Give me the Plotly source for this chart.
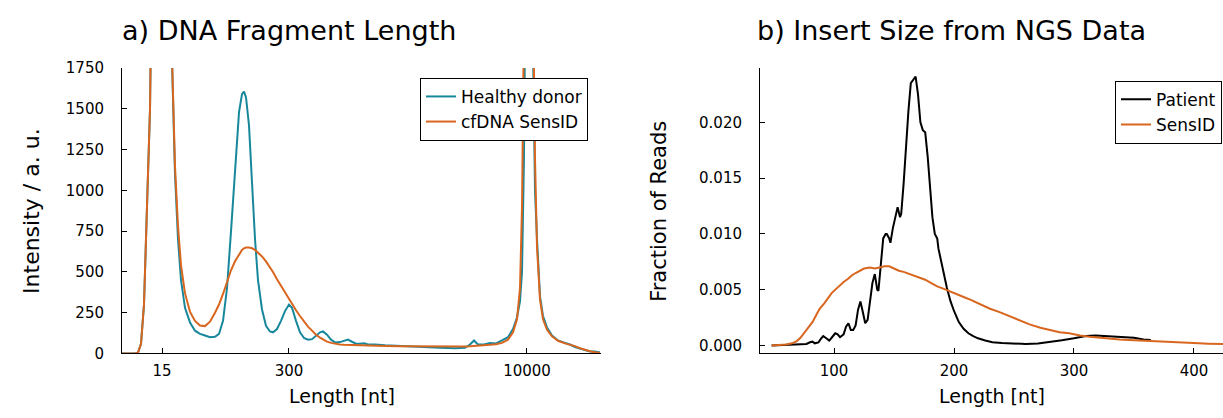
import plotly.graph_objects as go

# ---------------- Panel a) electropherogram (migration time axis, ladder-labelled) -------------
migration_time = [20.00, 22.71, 23.34, 23.97, 24.59, 25.22, 25.85, 26.89, 27.93, 28.98, 29.81, 30.44,
                  31.06, 31.69, 32.32, 33.15, 34.20, 35.24, 36.28, 37.33, 38.37, 39.42, 40.25, 41.09,
                  41.92, 42.76, 43.59, 44.43, 45.05, 45.47, 45.89, 46.51, 47.14, 47.77, 48.39, 49.23,
                  50.06, 50.90, 51.52, 52.36, 53.19, 54.03, 54.86, 55.49, 56.33, 57.16, 58.00, 58.83,
                  59.67, 60.50, 61.34, 61.96, 62.80, 63.63, 64.47, 65.51, 66.35, 67.18, 68.02, 68.85,
                  69.69, 70.52, 71.36, 72.82, 74.91, 78.04, 82.21, 86.39, 89.52, 91.61, 92.65, 93.49,
                  94.32, 95.57, 96.83, 98.08, 99.33, 100.58, 101.63, 102.46, 103.09, 103.51, 103.92,
                  104.34, 104.97, 105.80, 106.22, 106.64, 107.27, 107.89, 108.73, 109.77, 111.02,
                  112.48, 113.53, 114.57, 115.62, 116.66, 117.70, 118.75, 119.79]

healthy_donor = [0, 0, 5, 60, 300, 900, 1500, 4000, 6000, 4500, 2500, 1750,
                 1100, 700, 450, 280, 190, 140, 120, 110, 100, 102, 120, 200,
                 400, 750, 1150, 1480, 1590, 1605, 1570, 1400, 1050, 700, 450, 270,
                 170, 135, 130, 150, 200, 260, 300, 280, 200, 130, 95, 85,
                 88, 110, 130, 135, 115, 85, 68, 70, 80, 85, 72, 60,
                 60, 62, 55, 55, 50, 45, 40, 35, 32, 35, 55, 80,
                 55, 55, 65, 62, 80, 100, 150, 220, 320, 500, 1200,
                 2500, 5000, 1900, 1000, 700, 350, 230, 160, 110, 80,
                 65, 55, 40, 30, 20, 12, 12, 6]

cfdna_sensid = [0, 0, 5, 60, 300, 900, 1500, 4000, 6000, 4500, 2500, 1750,
                1150, 780, 540, 370, 255, 200, 172, 168, 195, 250, 300, 365,
                440, 510, 565, 610, 635, 645, 650, 650, 645, 635, 620, 595,
                565, 530, 500, 455, 415, 370, 330, 305, 265, 230, 195, 165,
                140, 115, 97, 85, 73, 65, 59, 55, 53, 52, 51, 50,
                50, 49, 48, 47, 46, 45, 43, 42, 42, 43, 44, 45,
                47, 50, 53, 57, 65, 85, 130, 210, 400, 900, 1800,
                3200, 5000, 2200, 1200, 650, 330, 210, 145, 105, 78,
                62, 55, 45, 32, 22, 14, 8, 3]

ladder_tick_time = [28.35, 54.86, 104.55]
ladder_tick_text = ["15", "300", "10000"]
intensity_ticks = [0, 250, 500, 750, 1000, 1250, 1500, 1750]

# ---------------- Panel b) insert size from NGS ---------------------------------------------
patient_len = [48, 55, 62, 68, 74, 77, 80, 82, 84, 87, 89, 91, 93, 96, 98, 101, 103, 105, 108, 110,
               112, 114, 116, 118, 120, 122, 124, 126, 128, 130, 132, 134, 136, 137, 139, 141, 143,
               144, 146, 147, 149, 151, 153, 155, 156, 158, 160, 162, 164, 166, 168, 170, 172, 174,
               176, 178, 180, 182, 184, 186, 187, 189, 191, 194, 197, 200, 204, 208, 212, 216, 220,
               226, 232, 240, 250, 260, 270, 280, 290, 300, 310, 318, 326, 334, 342, 350, 358, 364]
patient_frac = [0.00000, 0.00003, 0.00006, 0.00008, 0.00012, 0.00015, 0.00030, 0.00035, 0.00020,
                0.00028, 0.00060, 0.00085, 0.00070, 0.00045, 0.00070, 0.00110, 0.00100, 0.00075,
                0.00100, 0.00170, 0.00200, 0.00140, 0.00140, 0.00180, 0.00320, 0.00395, 0.00300,
                0.00200, 0.00230, 0.00380, 0.00560, 0.00640, 0.00500, 0.00490, 0.00700, 0.00960,
                0.01000, 0.01000, 0.00960, 0.00920, 0.01050, 0.01150, 0.01240, 0.01150, 0.01180,
                0.01450, 0.01800, 0.02100, 0.02350, 0.02380, 0.02410, 0.02250, 0.02000, 0.01930,
                0.01910, 0.01700, 0.01400, 0.01150, 0.01000, 0.00960, 0.00870, 0.00780, 0.00670,
                0.00520, 0.00400, 0.00310, 0.00210, 0.00150, 0.00110, 0.00085, 0.00065, 0.00045,
                0.00030, 0.00022, 0.00016, 0.00015, 0.00018, 0.00030, 0.00048, 0.00065, 0.00085,
                0.00090, 0.00085, 0.00080, 0.00078, 0.00070, 0.00055, 0.00050]

sensid_len = [48, 55, 60, 65, 69, 72, 75, 79, 82, 85, 88, 92, 95, 98, 102, 105, 108, 112, 115, 118,
              121, 125, 130, 134, 138, 142, 146, 150, 154, 158, 163, 167, 171, 176, 181, 186, 191,
              196, 201, 207, 214, 222, 230, 238, 247, 255, 263, 272, 280, 288, 296, 305, 313, 321,
              329, 338, 346, 354, 362, 370, 379, 387, 395, 404, 412, 420, 428, 436]
sensid_frac = [0.0000, 0.00005, 0.0001, 0.0002, 0.0004, 0.0007, 0.0011, 0.0016, 0.0021, 0.0027,
               0.0033, 0.0038, 0.0043, 0.0047, 0.0051, 0.0054, 0.0057, 0.0060, 0.0063, 0.0065,
               0.0067, 0.0069, 0.0070, 0.0069, 0.0070, 0.0071, 0.0071, 0.0069, 0.0067, 0.0066,
               0.0064, 0.0063, 0.0061, 0.0059, 0.0056, 0.0053, 0.0051, 0.0049, 0.0047, 0.0044,
               0.0041, 0.0037, 0.0033, 0.0030, 0.0026, 0.0022, 0.0019, 0.0016, 0.0014, 0.0012,
               0.0011, 0.0009, 0.0008, 0.0007, 0.00065, 0.00055, 0.0005, 0.00045, 0.0004, 0.00035,
               0.0003, 0.00027, 0.00023, 0.0002, 0.00017, 0.00015, 0.00014, 0.00013]

fraction_ticks = [0.0, 0.005, 0.010, 0.015, 0.020]
length_ticks = [100, 200, 300, 400]

TEAL = "#17889b"
ORANGE = "#d9661f"
FONT = "DejaVu Sans"
W, H = 1223, 418

fig = go.Figure()
fig.add_trace(go.Scatter(x=migration_time, y=healthy_donor, mode="lines", name="Healthy donor",
                         line=dict(color=TEAL, width=2), xaxis="x", yaxis="y", legend="legend"))
fig.add_trace(go.Scatter(x=migration_time, y=cfdna_sensid, mode="lines", name="cfDNA SensID",
                         line=dict(color=ORANGE, width=2), xaxis="x", yaxis="y", legend="legend"))
fig.add_trace(go.Scatter(x=patient_len, y=patient_frac, mode="lines", name="Patient",
                         line=dict(color="black", width=2), xaxis="x2", yaxis="y2", legend="legend2"))
fig.add_trace(go.Scatter(x=sensid_len, y=sensid_frac, mode="lines", name="SensID",
                         line=dict(color=ORANGE, width=2), xaxis="x2", yaxis="y2", legend="legend2"))

ydom = [1 - 360 / H, 1 - 61.7 / H]
axis_common = dict(showgrid=False, zeroline=False, showline=True, linecolor="black", linewidth=1,
                   ticks="inside", ticklen=5, tickcolor="black", tickwidth=1,
                   tickfont=dict(family=FONT, size=15, color="black"))

fig.update_layout(
    width=W, height=H,
    margin=dict(l=0, r=0, t=0, b=0),
    paper_bgcolor="white", plot_bgcolor="white",
    font=dict(family=FONT, color="black"),
    xaxis=dict(domain=[122 / W, 601 / W], range=[20, 120], tickvals=ladder_tick_time,
               ticktext=ladder_tick_text, anchor="y", ticklabelstandoff=4, **axis_common),
    yaxis=dict(domain=ydom, range=[0, 1750], tickvals=intensity_ticks, anchor="x",
               ticklabelstandoff=14, **axis_common),
    xaxis2=dict(domain=[760 / W, 1.0], range=[38.3, 424.2], tickvals=length_ticks, anchor="y2",
                ticklabelstandoff=4, **axis_common),
    yaxis2=dict(domain=ydom, range=[-0.00071, 0.02486], tickvals=fraction_ticks,
                tickformat=".3f", anchor="x2", ticklabelstandoff=14, **axis_common),
    legend=dict(x=588 / W, y=1 - 72 / H, xanchor="right", yanchor="top",
                bordercolor="black", borderwidth=1, bgcolor="white",
                font=dict(family=FONT, size=17, color="black"), tracegroupgap=0),
    legend2=dict(x=1222 / W, y=1 - 75 / H, xanchor="right", yanchor="top",
                 bordercolor="black", borderwidth=1, bgcolor="white",
                 font=dict(family=FONT, size=17, color="black"), tracegroupgap=0),
    showlegend=True,
)

annotations = [
    dict(text="a) DNA Fragment Length", x=120 / W, y=1 - 22 / H, xanchor="left", yanchor="middle",
         font=dict(size=27)),
    dict(text="b) Insert Size from NGS Data", x=755 / W, y=1 - 22 / H, xanchor="left",
         yanchor="middle", font=dict(size=27)),
    dict(text="Length [nt]", x=342 / W, y=1 - 404 / H, xanchor="center", yanchor="middle",
         font=dict(size=19)),
    dict(text="Length [nt]", x=992 / W, y=1 - 404 / H, xanchor="center", yanchor="middle",
         font=dict(size=19)),
    dict(text="Intensity / a. u.", x=32 / W, y=1 - 211 / H, xanchor="center", yanchor="middle",
         textangle=-90, font=dict(size=22)),
    dict(text="Fraction of Reads", x=659 / W, y=1 - 212 / H, xanchor="center", yanchor="middle",
         textangle=-90, font=dict(size=21)),
]
for a in annotations:
    a.update(xref="paper", yref="paper", showarrow=False)
    a["font"].update(family=FONT, color="black")
fig.update_layout(annotations=annotations)

fig.write_html("out.html", post_script="document.body.style.margin='0';",
               config={"displayModeBar": False})
